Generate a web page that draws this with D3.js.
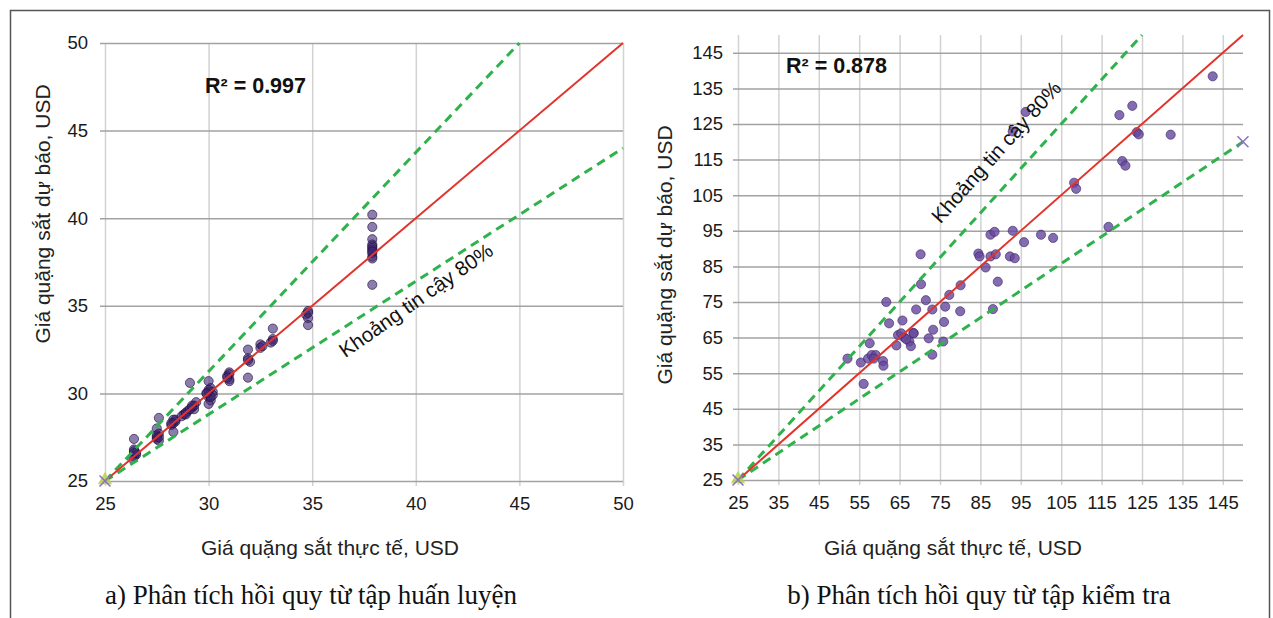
<!DOCTYPE html>
<html>
<head>
<meta charset="utf-8">
<script src="https://cdn.jsdelivr.net/npm/d3@7/dist/d3.min.js"></script>
<style>
  body { margin: 0; background: #fff; }
  svg { display: block; font-family: "Liberation Sans", Arial, sans-serif; }
  .tick text { font-size: 18.5px; fill: #1a1a1a; }
  .x-axis line { stroke: #d2d2d2; stroke-width: 1.5; }
  .y-axis line { stroke: #a2a2a2; stroke-width: 1.5; }
  .domain { display: none; }
  .caption { font-family: "Liberation Serif", "Times New Roman", serif; font-size: 27px; fill: #111; }
</style>
</head>
<body>
<svg id="graphsvg" width="1273" height="618"></svg>
<script>
// ---- panel a: training set ----
var trainTicks = [25, 30, 35, 40, 45, 50];
var trainActual = [
  26.4, 26.4, 26.4, 26.5, 26.4, 26.3, 26.5, 26.4,
  27.6, 27.5, 27.6, 27.5, 27.5, 27.6, 27.5, 27.6,
  28.3, 28.4, 28.3, 28.2, 28.3, 28.4, 28.2,
  28.8, 28.7, 29.0, 28.9, 29.1, 29.2, 29.3, 29.4, 29.3, 28.9, 29.1, 29.2,
  30.0, 30.1, 30.0, 29.9, 30.0, 30.1, 30.0, 30.2, 30.2, 30.0, 30.1, 29.9,
  31.0, 30.9, 31.0, 31.0, 31.0, 30.9,
  31.9, 31.9, 32.0, 31.9, 31.9,
  32.5, 32.5, 32.6,
  33.1, 33.1, 33.0, 33.1,
  34.8, 34.7, 34.8, 34.8, 34.8,
  37.9, 37.9, 37.9, 37.9, 37.9, 37.9, 37.9, 37.9, 37.9, 37.9, 37.9, 37.9
];
var trainPredicted = [
  27.4, 26.8, 26.6, 26.5, 26.4, 26.3, 26.6, 26.7,
  28.6, 28.0, 27.7, 27.5, 27.4, 27.3, 27.6, 27.5,
  28.5, 28.4, 28.3, 28.2, 27.8, 28.5, 28.3,
  28.8, 28.7, 29.0, 28.9, 30.6, 29.2, 29.1, 29.5, 29.3, 28.8, 29.1, 29.3,
  30.7, 30.3, 30.1, 30.0, 29.8, 29.6, 29.4, 30.1, 29.9, 30.2, 29.8, 30.0,
  31.2, 31.0, 30.8, 30.7, 31.1, 30.9,
  32.5, 32.0, 31.8, 30.9, 31.9,
  32.8, 32.6, 32.7,
  33.7, 33.1, 32.9, 33.0,
  34.7, 34.5, 34.3, 33.9, 34.6,
  40.2, 39.5, 38.8, 38.5, 38.3, 38.2, 38.0, 37.8, 37.7, 36.2, 38.4, 38.1
];
var trainFit = [[25, 25], [50, 50]];
var trainUpper = [[25, 25], [45, 50]];
var trainLower = [[25, 25], [50, 44]];

// ---- panel b: test set ----
var testTicks = [25, 35, 45, 55, 65, 75, 85, 95, 105, 115, 125, 135, 145];
var testActual = [
  142.5, 122.6, 119.4, 123.7, 124.2, 132.1, 96.2, 93.0, 120.1, 120.9,
  108.2, 108.7, 116.7, 100.0, 103.0, 95.8, 93.0, 87.5, 88.5, 84.5,
  84.8, 87.5, 88.8, 92.3, 93.5, 86.3, 89.3, 70.2, 70.3, 77.3,
  80.1, 71.5, 76.3, 73.1, 69.1, 80.0, 61.7, 62.4, 65.7, 76.0,
  73.3, 68.4, 72.2, 75.8, 73.1, 64.6, 66.1, 64.2, 67.4, 67.8,
  66.6, 57.6, 52.1, 55.4, 57.2, 58.1, 59.1, 58.6, 60.9, 61.0,
  56.1, 88.1, 65.4, 68.5
];
var testPredicted = [
  138.4, 130.1, 127.5, 122.7, 122.1, 122.0, 128.4, 122.9, 114.6, 113.3,
  108.5, 106.8, 96.1, 93.9, 93.0, 91.8, 95.0, 93.9, 94.7, 88.6,
  87.8, 87.8, 88.4, 87.8, 87.3, 84.7, 80.7, 88.4, 80.0, 77.0,
  79.7, 75.5, 73.7, 72.9, 72.9, 72.4, 75.0, 69.0, 69.8, 69.4,
  67.2, 66.3, 64.8, 63.9, 60.2, 65.7, 65.1, 62.8, 63.9, 62.6,
  64.6, 63.4, 59.1, 58.0, 59.1, 60.1, 60.1, 59.1, 58.4, 57.1,
  52.0, 73.0, 66.2, 66.2
];
var testFit = [[25, 25], [150, 150]];
var testUpper = [[25, 25], [125, 150]];
var testLower = [[25, 25], [150, 120]];

var svg = d3.select("#graphsvg");

// outer frame
svg.append("rect")
  .attr("x", 10.5).attr("y", 10.5)
  .attr("width", 1259).attr("height", 640)
  .attr("fill", "none").attr("stroke", "#555").attr("stroke-width", 1.5);

function panel(opt) {
  var g = svg.append("g");
  var x = d3.scaleLinear().domain(opt.domain).range(opt.xRange);
  var y = d3.scaleLinear().domain(opt.domain).range(opt.yRange);
  var w = opt.xRange[1] - opt.xRange[0],
      h = opt.yRange[0] - opt.yRange[1];

  // grid + ticks (ticks stick out 5px)
  g.append("g")
    .attr("class", "x-axis")
    .attr("transform", "translate(0," + (opt.yRange[0] + 5) + ")")
    .call(d3.axisBottom(x).tickValues(opt.ticks).tickSize(-(h + 5)).tickPadding(11));
  g.append("g")
    .attr("class", "y-axis")
    .attr("transform", "translate(" + (opt.xRange[0] - 5) + ",0)")
    .call(d3.axisLeft(y).tickValues(opt.ticks).tickSize(-(w + 5)).tickPadding(opt.yPad));

  // points
  g.append("g").selectAll("circle")
    .data(opt.actual.map(function(v, i) { return [v, opt.predicted[i]]; }))
    .enter().append("circle")
    .attr("cx", function(d) { return x(d[0]); })
    .attr("cy", function(d) { return y(d[1]); })
    .attr("r", 4.6)
    .attr("fill", opt.dotColor)
    .attr("fill-opacity", opt.dotOpacity)
    .attr("stroke", opt.dotStroke)
    .attr("stroke-opacity", 0.6)
    .attr("stroke-width", 1);

  var line = d3.line()
    .x(function(d) { return x(d[0]); })
    .y(function(d) { return y(d[1]); });

  [opt.upper, opt.lower].forEach(function(b) {
    g.append("path").attr("d", line(b))
      .attr("fill", "none").attr("stroke", "#2fb24c")
      .attr("stroke-width", 3).attr("stroke-dasharray", "9,6");
  });
  g.append("path").attr("d", line(opt.fit))
    .attr("fill", "none").attr("stroke", "#e2332b").attr("stroke-width", 2);

  // start markers
  g.append("path")
    .attr("d", d3.symbol().type(d3.symbolTriangle).size(90)())
    .attr("transform", "translate(" + x(25) + "," + (y(25) - 1) + ")")
    .attr("fill", "#b9d44f").attr("opacity", 0.85);
  opt.crosses.forEach(function(c) {
    g.append("path")
      .attr("d", d3.symbol().type(d3.symbolX).size(80)())
      .attr("transform", "translate(" + x(c[0]) + "," + y(c[1]) + ")")
      .attr("fill", "none").attr("stroke", "#8b6fc4").attr("stroke-width", 1.5);
  });

  // R squared
  g.append("text")
    .attr("x", opt.r2Pos[0]).attr("y", opt.r2Pos[1])
    .style("font-size", "21.5px").style("font-weight", "bold").attr("fill", "#111")
    .text(opt.r2);

  // band label
  g.append("text")
    .attr("transform", "translate(" + x(opt.bandPos[0]) + "," + y(opt.bandPos[1]) + ") rotate(" + opt.bandAngle + ")")
    .style("font-size", "20.5px").attr("fill", "#111")
    .text("Khoảng tin cậy 80%");

  // axis titles
  g.append("text")
    .attr("x", opt.xTitle[0]).attr("y", opt.xTitle[1])
    .attr("text-anchor", "middle").style("font-size", "21px").attr("fill", "#222")
    .text("Giá quặng sắt thực tế, USD");
  g.append("text")
    .attr("transform", "translate(" + opt.yTitle[0] + "," + opt.yTitle[1] + ") rotate(-90)")
    .attr("text-anchor", "middle").style("font-size", "21px").attr("fill", "#222")
    .text("Giá quặng sắt dự báo, USD");

  g.append("text")
    .attr("class", "caption")
    .attr("x", opt.caption[0]).attr("y", opt.caption[1])
    .attr("text-anchor", "middle")
    .text(opt.captionText);
}

panel({
  domain: [25, 50], xRange: [105, 623], yRange: [481, 43],
  ticks: trainTicks, yPad: 12,
  actual: trainActual, predicted: trainPredicted,
  dotColor: "#3f2675", dotOpacity: 0.6, dotStroke: "#1c0c3a",
  fit: trainFit, upper: trainUpper, lower: trainLower,
  crosses: [[25, 25]],
  r2: "R² = 0.997", r2Pos: [205, 93],
  bandPos: [36.6, 32.0], bandAngle: -35,
  xTitle: [330, 555], yTitle: [50, 214],
  caption: [311, 604], captionText: "a)  Phân tích hồi quy từ tập huấn luyện"
});

panel({
  domain: [25, 150], xRange: [738, 1243], yRange: [480, 35],
  ticks: testTicks, yPad: 10,
  actual: testActual, predicted: testPredicted,
  dotColor: "#65479c", dotOpacity: 0.8, dotStroke: "#3b2168",
  fit: testFit, upper: testUpper, lower: testLower,
  crosses: [[25, 25], [150, 120]],
  r2: "R² = 0.878", r2Pos: [786, 73],
  bandPos: [75.1, 96.8], bandAngle: -48,
  xTitle: [953, 555], yTitle: [672, 255],
  caption: [979, 604], captionText: "b) Phân tích hồi quy từ tập kiểm tra"
});
</script>
</body>
</html>
